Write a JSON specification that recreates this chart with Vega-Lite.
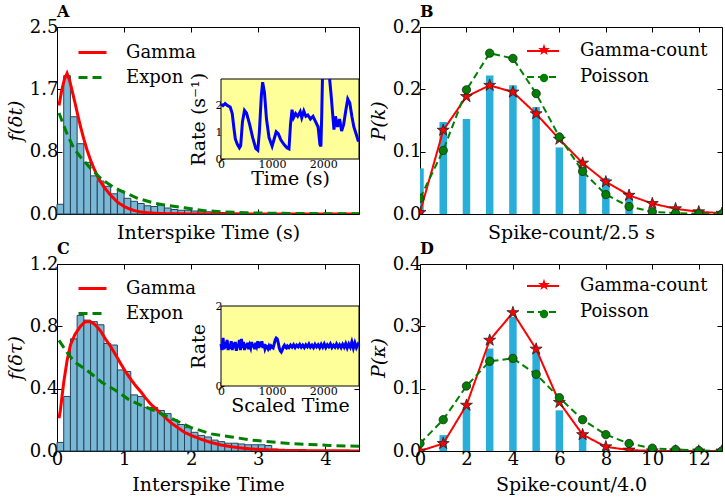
{
  "$schema": "https://vega.github.io/schema/vega-lite/v6.json",
  "background": "white",
  "padding": {"left": 5, "top": 3, "right": 3, "bottom": 3},
  "bounds": "flush",
  "columns": 2,
  "spacing": {"row": 50, "column": 61},
  "resolve": {
    "scale": {"color": "independent", "strokeDash": "independent", "shape": "independent", "fill": "independent"},
    "legend": {"color": "independent", "strokeDash": "independent", "shape": "independent", "fill": "independent"}
  },
  "config": {
    "font": "DejaVu Serif",
    "view": {"stroke": "black", "strokeWidth": 1},
    "axis": {"labelFont": "DejaVu Serif", "labelFontSize": 18, "titleFont": "DejaVu Serif", "titleFontSize": 19, "titleFontWeight": "normal", "labelColor": "black", "titleColor": "black", "tickColor": "black", "domain": false, "grid": false, "labelFlush": false, "labelOverlap": false, "tickSize": -5, "labelPadding": 4},
    "legend": {"labelFont": "DejaVu Serif", "labelFontSize": 18, "labelColor": "black", "padding": 0},
    "title": {"anchor": "start", "font": "DejaVu Serif", "fontSize": 16, "fontWeight": "bold", "offset": -2, "baseline": "alphabetic", "frame": "group", "color": "black"}
  },
  "concat": [
    {
      "width": 302, "height": 187,
      "title": {"text": "A"},
      "layer": [
        {
          "layer": [
            {
              "data": {"name": "histA"},
              "mark": {"type": "bar", "fill": "#7ab8d6", "stroke": "#25455a", "strokeWidth": 1},
              "encoding": {
                "x": {"field": "lo", "type": "quantitative", "scale": {"domain": [0, 4.5], "padding": 0, "nice": false}, "axis": {"orient": "bottom", "values": [0, 1, 2, 3, 4], "labels": false, "title": "Interspike Time (s)", "titlePadding": 9}},
                "x2": {"field": "hi"},
                "y": {"field": "density", "type": "quantitative", "scale": {"domain": [0, 2.5], "padding": 0, "nice": false}, "axis": {"orient": "left", "values": [0, 0.83333, 1.66667, 2.5], "format": ".1f", "title": "f(δt)", "titleFontStyle": "italic", "titlePadding": 4}},
                "y2": {"datum": 0}
              }
            },
            {
              "data": {"name": "lineA"},
              "mark": {"type": "line", "strokeWidth": 3, "clip": true},
              "encoding": {
                "x": {"field": "t", "type": "quantitative"},
                "y": {"field": "f", "type": "quantitative"},
                "color": {"field": "model", "type": "nominal", "scale": {"domain": ["Gamma", "Expon"], "range": ["#ff0000", "#008000"]}, "legend": {"orient": "none", "legendX": 20, "legendY": 10, "title": null, "symbolType": "stroke", "symbolSize": 784, "symbolStrokeWidth": 3, "labelOffset": 18, "rowPadding": -1}},
                "strokeDash": {"field": "model", "type": "nominal", "scale": {"domain": ["Gamma", "Expon"], "range": [[1, 0], [9, 5]]}, "legend": {"orient": "none", "legendX": 20, "legendY": 10, "title": null, "symbolType": "stroke", "symbolSize": 784, "symbolStrokeWidth": 3, "labelOffset": 18, "rowPadding": -1}}
              }
            }
          ]
        },
        {
          "layer": [
            {
              "data": {"values": [{}]},
              "mark": {"type": "rect", "fill": "#ffff99", "stroke": "black", "strokeWidth": 1},
              "encoding": {
                "x": {"datum": 0, "type": "quantitative", "scale": {"domain": [0, 2700], "range": [164, 302], "nice": false}, "axis": {"orient": "bottom", "offset": -55, "values": [0, 1000, 2000], "format": "d", "labelFontSize": 11, "tickSize": -3, "labelPadding": 2, "title": "Time (s)", "titlePadding": 0}},
                "x2": {"datum": 2700},
                "y": {"datum": 0, "type": "quantitative", "scale": {"domain": [0, 3], "range": [132, 52], "nice": false}, "axis": {"orient": "left", "offset": -164, "values": [0, 1, 2], "format": "d", "labelFontSize": 11, "tickSize": -3, "labelPadding": 2, "title": "Rate (s⁻¹)", "titleX": -13}},
                "y2": {"datum": 3}
              }
            },
            {
              "data": {"name": "rateA"},
              "mark": {"type": "line", "color": "#0000ff", "strokeWidth": 3},
              "encoding": {
                "x": {"field": "time", "type": "quantitative"},
                "y": {"field": "rate", "type": "quantitative"},
                "detail": {"field": "seg", "type": "nominal"}
              }
            }
          ]
        },
        {
          "data": {"values": [{}]},
          "mark": {"type": "point", "opacity": 0},
          "encoding": {
            "x": {"datum": 0, "type": "quantitative", "scale": {"domain": [0, 4.5], "nice": false}, "axis": {"orient": "top", "values": [0, 1, 2, 3, 4], "labels": false, "title": null, "minExtent": 0, "maxExtent": 0}},
            "y": {"datum": 0, "type": "quantitative", "scale": {"domain": [0, 2.5], "nice": false}, "axis": {"orient": "right", "values": [0, 0.83333, 1.66667, 2.5], "labels": false, "title": null, "minExtent": 0, "maxExtent": 0}}
          }
        }
      ],
      "resolve": {"scale": {"x": "independent", "y": "independent"}}
    },
    {
      "width": 302, "height": 187,
      "title": {"text": "B"},
      "layer": [
        {
          "layer": [
            {
              "data": {"name": "countB"},
              "mark": {"type": "bar", "color": "#28aed8", "width": 7.5, "clip": true},
              "encoding": {
                "x": {"field": "k", "type": "quantitative", "scale": {"domain": [0, 13], "padding": 0, "nice": false}, "axis": {"orient": "bottom", "values": [0, 2, 4, 6, 8, 10, 12], "labels": false, "title": "Spike-count/2.5 s", "titlePadding": 9}},
                "y": {"field": "prob", "type": "quantitative", "scale": {"domain": [0, 0.25], "padding": 0, "nice": false}, "axis": {"orient": "left", "values": [0, 0.08333, 0.16667, 0.2499], "format": ".1f", "title": "P(k)", "titleFontStyle": "italic", "titlePadding": 4}}
              }
            },
            {
              "data": {"name": "modelB"},
              "mark": {"type": "line", "strokeWidth": 2, "clip": true},
              "encoding": {
                "x": {"field": "k", "type": "quantitative"},
                "y": {"field": "p", "type": "quantitative"},
                "color": {"field": "model", "type": "nominal", "scale": {"domain": ["Gamma-count", "Poisson"], "range": ["#ff0000", "#008000"]}, "legend": {"orient": "none", "legendX": 106, "legendY": 7, "title": null, "symbolType": "stroke", "symbolSize": 1024, "symbolStrokeWidth": 2, "labelOffset": 20, "rowPadding": -4}},
                "strokeDash": {"field": "model", "type": "nominal", "scale": {"domain": ["Gamma-count", "Poisson"], "range": [[1, 0], [7, 4]]}, "legend": {"orient": "none", "legendX": 106, "legendY": 7, "title": null, "symbolType": "stroke", "symbolSize": 1024, "symbolStrokeWidth": 2, "labelOffset": 20, "rowPadding": -4}}
              }
            },
            {
              "data": {"name": "modelB"},
              "mark": {"type": "point", "filled": true, "size": 70, "stroke": "#222222", "strokeWidth": 0.8, "opacity": 1, "clip": true},
              "encoding": {
                "x": {"field": "k", "type": "quantitative"},
                "y": {"field": "p", "type": "quantitative"},
                "shape": {"field": "model", "type": "nominal", "scale": {"domain": ["Gamma-count", "Poisson"], "range": ["M0,-1.5L0.337,-0.464L1.427,-0.464L0.545,0.177L0.882,1.214L0,0.573L-0.882,1.214L-0.545,0.177L-1.427,-0.464L-0.337,-0.464Z", "circle"]}, "legend": {"orient": "none", "legendX": 115, "legendY": 14, "title": null, "symbolSize": 70, "symbolStrokeColor": "#222222", "symbolStrokeWidth": 0.8, "labelExpr": "''", "labelOffset": 20, "rowPadding": 10}},
                "fill": {"field": "model", "type": "nominal", "scale": {"domain": ["Gamma-count", "Poisson"], "range": ["#ff0000", "#008000"]}, "legend": {"orient": "none", "legendX": 115, "legendY": 14, "title": null, "symbolSize": 70, "symbolStrokeColor": "#222222", "symbolStrokeWidth": 0.8, "labelExpr": "''", "labelOffset": 20, "rowPadding": 10}}
              }
            }
          ],
          "resolve": {"legend": {"color": "independent", "strokeDash": "independent", "shape": "independent", "fill": "independent"}}
        },
        {
          "data": {"values": [{}]},
          "mark": {"type": "point", "opacity": 0},
          "encoding": {
            "x": {"datum": 0, "type": "quantitative", "scale": {"domain": [0, 13], "nice": false}, "axis": {"orient": "top", "values": [0, 2, 4, 6, 8, 10, 12], "labels": false, "title": null, "minExtent": 0, "maxExtent": 0}},
            "y": {"datum": 0, "type": "quantitative", "scale": {"domain": [0, 0.25], "nice": false}, "axis": {"orient": "right", "values": [0, 0.08333, 0.16667, 0.25], "labels": false, "title": null, "minExtent": 0, "maxExtent": 0}}
          }
        }
      ],
      "resolve": {"scale": {"x": "independent", "y": "independent"}}
    },
    {
      "width": 302, "height": 187,
      "title": {"text": "C"},
      "layer": [
        {
          "layer": [
            {
              "data": {"name": "histC"},
              "mark": {"type": "bar", "fill": "#7ab8d6", "stroke": "#25455a", "strokeWidth": 1},
              "encoding": {
                "x": {"field": "lo", "type": "quantitative", "scale": {"domain": [0, 4.5], "padding": 0, "nice": false}, "axis": {"orient": "bottom", "values": [0, 1, 2, 3, 4], "format": "d", "title": "Interspike Time", "titlePadding": 7}},
                "x2": {"field": "hi"},
                "y": {"field": "density", "type": "quantitative", "scale": {"domain": [0, 1.2], "padding": 0, "nice": false}, "axis": {"orient": "left", "values": [0, 0.4, 0.8, 1.2], "format": ".1f", "title": "f(δτ)", "titleFontStyle": "italic", "titlePadding": 4}},
                "y2": {"datum": 0}
              }
            },
            {
              "data": {"name": "lineC"},
              "mark": {"type": "line", "strokeWidth": 3, "clip": true},
              "encoding": {
                "x": {"field": "t", "type": "quantitative"},
                "y": {"field": "f", "type": "quantitative"},
                "color": {"field": "model", "type": "nominal", "scale": {"domain": ["Gamma", "Expon"], "range": ["#ff0000", "#008000"]}, "legend": {"orient": "none", "legendX": 20, "legendY": 9, "title": null, "symbolType": "stroke", "symbolSize": 784, "symbolStrokeWidth": 3, "labelOffset": 18, "rowPadding": -1}},
                "strokeDash": {"field": "model", "type": "nominal", "scale": {"domain": ["Gamma", "Expon"], "range": [[1, 0], [9, 5]]}, "legend": {"orient": "none", "legendX": 20, "legendY": 9, "title": null, "symbolType": "stroke", "symbolSize": 784, "symbolStrokeWidth": 3, "labelOffset": 18, "rowPadding": -1}}
              }
            }
          ]
        },
        {
          "layer": [
            {
              "data": {"values": [{}]},
              "mark": {"type": "rect", "fill": "#ffff99", "stroke": "black", "strokeWidth": 1},
              "encoding": {
                "x": {"datum": 0, "type": "quantitative", "scale": {"domain": [0, 2700], "range": [164, 302], "nice": false}, "axis": {"orient": "bottom", "offset": -65, "values": [0, 1000, 2000], "format": "d", "labelFontSize": 11, "tickSize": -3, "labelPadding": 2, "title": "Scaled Time", "titlePadding": 0}},
                "x2": {"datum": 2700},
                "y": {"datum": 0, "type": "quantitative", "scale": {"domain": [0, 2], "range": [122, 42], "nice": false}, "axis": {"orient": "left", "offset": -164, "values": [0, 1, 2], "format": "d", "labelFontSize": 11, "tickSize": -3, "labelPadding": 2, "title": "Rate", "titleX": -13}},
                "y2": {"datum": 2}
              }
            },
            {
              "data": {"name": "rateC"},
              "mark": {"type": "line", "color": "#0000ff", "strokeWidth": 3},
              "encoding": {
                "x": {"field": "time", "type": "quantitative"},
                "y": {"field": "rate", "type": "quantitative"}
              }
            }
          ]
        },
        {
          "data": {"values": [{}]},
          "mark": {"type": "point", "opacity": 0},
          "encoding": {
            "x": {"datum": 0, "type": "quantitative", "scale": {"domain": [0, 4.5], "nice": false}, "axis": {"orient": "top", "values": [0, 1, 2, 3, 4], "labels": false, "title": null, "minExtent": 0, "maxExtent": 0}},
            "y": {"datum": 0, "type": "quantitative", "scale": {"domain": [0, 1.2], "nice": false}, "axis": {"orient": "right", "values": [0, 0.4, 0.8, 1.2], "labels": false, "title": null, "minExtent": 0, "maxExtent": 0}}
          }
        }
      ],
      "resolve": {"scale": {"x": "independent", "y": "independent"}}
    },
    {
      "width": 302, "height": 187,
      "title": {"text": "D"},
      "layer": [
        {
          "layer": [
            {
              "data": {"name": "countD"},
              "mark": {"type": "bar", "color": "#28aed8", "width": 7.5, "clip": true},
              "encoding": {
                "x": {"field": "k", "type": "quantitative", "scale": {"domain": [0, 13], "padding": 0, "nice": false}, "axis": {"orient": "bottom", "values": [0, 2, 4, 6, 8, 10, 12], "format": "d", "title": "Spike-count/4.0", "titlePadding": 7}},
                "y": {"field": "prob", "type": "quantitative", "scale": {"domain": [0, 0.4], "padding": 0, "nice": false}, "axis": {"orient": "left", "values": [0, 0.13333, 0.26667, 0.4], "format": ".1f", "title": "P(κ)", "titleFontStyle": "italic", "titlePadding": 4}}
              }
            },
            {
              "data": {"name": "modelD"},
              "mark": {"type": "line", "strokeWidth": 2, "clip": true},
              "encoding": {
                "x": {"field": "k", "type": "quantitative"},
                "y": {"field": "p", "type": "quantitative"},
                "color": {"field": "model", "type": "nominal", "scale": {"domain": ["Gamma-count", "Poisson"], "range": ["#ff0000", "#008000"]}, "legend": {"orient": "none", "legendX": 106, "legendY": 5, "title": null, "symbolType": "stroke", "symbolSize": 1024, "symbolStrokeWidth": 2, "labelOffset": 20, "rowPadding": -3}},
                "strokeDash": {"field": "model", "type": "nominal", "scale": {"domain": ["Gamma-count", "Poisson"], "range": [[1, 0], [7, 4]]}, "legend": {"orient": "none", "legendX": 106, "legendY": 5, "title": null, "symbolType": "stroke", "symbolSize": 1024, "symbolStrokeWidth": 2, "labelOffset": 20, "rowPadding": -3}}
              }
            },
            {
              "data": {"name": "modelD"},
              "mark": {"type": "point", "filled": true, "size": 70, "stroke": "#222222", "strokeWidth": 0.8, "opacity": 1, "clip": true},
              "encoding": {
                "x": {"field": "k", "type": "quantitative"},
                "y": {"field": "p", "type": "quantitative"},
                "shape": {"field": "model", "type": "nominal", "scale": {"domain": ["Gamma-count", "Poisson"], "range": ["M0,-1.5L0.337,-0.464L1.427,-0.464L0.545,0.177L0.882,1.214L0,0.573L-0.882,1.214L-0.545,0.177L-1.427,-0.464L-0.337,-0.464Z", "circle"]}, "legend": {"orient": "none", "legendX": 115, "legendY": 12, "title": null, "symbolSize": 70, "symbolStrokeColor": "#222222", "symbolStrokeWidth": 0.8, "labelExpr": "''", "labelOffset": 20, "rowPadding": 11}},
                "fill": {"field": "model", "type": "nominal", "scale": {"domain": ["Gamma-count", "Poisson"], "range": ["#ff0000", "#008000"]}, "legend": {"orient": "none", "legendX": 115, "legendY": 12, "title": null, "symbolSize": 70, "symbolStrokeColor": "#222222", "symbolStrokeWidth": 0.8, "labelExpr": "''", "labelOffset": 20, "rowPadding": 11}}
              }
            }
          ],
          "resolve": {"legend": {"color": "independent", "strokeDash": "independent", "shape": "independent", "fill": "independent"}}
        },
        {
          "data": {"values": [{}]},
          "mark": {"type": "point", "opacity": 0},
          "encoding": {
            "x": {"datum": 0, "type": "quantitative", "scale": {"domain": [0, 13], "nice": false}, "axis": {"orient": "top", "values": [0, 2, 4, 6, 8, 10, 12], "labels": false, "title": null, "minExtent": 0, "maxExtent": 0}},
            "y": {"datum": 0, "type": "quantitative", "scale": {"domain": [0, 0.4], "nice": false}, "axis": {"orient": "right", "values": [0, 0.13333, 0.26667, 0.4], "labels": false, "title": null, "minExtent": 0, "maxExtent": 0}}
          }
        }
      ],
      "resolve": {"scale": {"x": "independent", "y": "independent"}}
    }
  ],
  "datasets": {
    "histA": [
      {"lo": 0.0, "hi": 0.1, "density": 0.13}, {"lo": 0.1, "hi": 0.2, "density": 1.85}, {"lo": 0.2, "hi": 0.3, "density": 1.30},
      {"lo": 0.3, "hi": 0.4, "density": 0.94}, {"lo": 0.4, "hi": 0.5, "density": 0.69}, {"lo": 0.5, "hi": 0.6, "density": 0.51},
      {"lo": 0.6, "hi": 0.7, "density": 0.44}, {"lo": 0.7, "hi": 0.8, "density": 0.37}, {"lo": 0.8, "hi": 0.9, "density": 0.27},
      {"lo": 0.9, "hi": 1.0, "density": 0.31}, {"lo": 1.0, "hi": 1.1, "density": 0.21}, {"lo": 1.1, "hi": 1.2, "density": 0.17},
      {"lo": 1.2, "hi": 1.3, "density": 0.14}, {"lo": 1.3, "hi": 1.4, "density": 0.11}, {"lo": 1.4, "hi": 1.5, "density": 0.10},
      {"lo": 1.5, "hi": 1.6, "density": 0.12}, {"lo": 1.6, "hi": 1.7, "density": 0.08}, {"lo": 1.7, "hi": 1.8, "density": 0.06},
      {"lo": 1.8, "hi": 1.9, "density": 0.05}, {"lo": 1.9, "hi": 2.0, "density": 0.05}, {"lo": 2.0, "hi": 2.1, "density": 0.04},
      {"lo": 2.1, "hi": 2.2, "density": 0.03}, {"lo": 2.2, "hi": 2.3, "density": 0.03}, {"lo": 2.3, "hi": 2.4, "density": 0.02},
      {"lo": 2.4, "hi": 2.5, "density": 0.02}, {"lo": 2.5, "hi": 2.6, "density": 0.015}, {"lo": 2.6, "hi": 2.7, "density": 0.012},
      {"lo": 2.7, "hi": 2.8, "density": 0.01}, {"lo": 2.8, "hi": 2.9, "density": 0.008}, {"lo": 2.9, "hi": 3.0, "density": 0.006},
      {"lo": 3.0, "hi": 3.1, "density": 0.005}, {"lo": 3.1, "hi": 3.2, "density": 0.004}, {"lo": 3.2, "hi": 3.3, "density": 0.003},
      {"lo": 3.3, "hi": 3.4, "density": 0.003}, {"lo": 3.4, "hi": 3.5, "density": 0.002}
    ],
    "lineA": [
      {"t": 0.03, "f": 1.45, "model": "Gamma"}, {"t": 0.07, "f": 1.65, "model": "Gamma"}, {"t": 0.11, "f": 1.80, "model": "Gamma"},
      {"t": 0.15, "f": 1.88, "model": "Gamma"}, {"t": 0.19, "f": 1.78, "model": "Gamma"}, {"t": 0.23, "f": 1.63, "model": "Gamma"},
      {"t": 0.27, "f": 1.48, "model": "Gamma"}, {"t": 0.31, "f": 1.32, "model": "Gamma"}, {"t": 0.35, "f": 1.17, "model": "Gamma"},
      {"t": 0.40, "f": 1.00, "model": "Gamma"}, {"t": 0.45, "f": 0.85, "model": "Gamma"}, {"t": 0.50, "f": 0.72, "model": "Gamma"},
      {"t": 0.55, "f": 0.61, "model": "Gamma"}, {"t": 0.60, "f": 0.51, "model": "Gamma"}, {"t": 0.65, "f": 0.43, "model": "Gamma"},
      {"t": 0.70, "f": 0.36, "model": "Gamma"}, {"t": 0.80, "f": 0.25, "model": "Gamma"}, {"t": 0.90, "f": 0.16, "model": "Gamma"},
      {"t": 1.00, "f": 0.10, "model": "Gamma"}, {"t": 1.10, "f": 0.06, "model": "Gamma"}, {"t": 1.20, "f": 0.035, "model": "Gamma"},
      {"t": 1.30, "f": 0.02, "model": "Gamma"}, {"t": 1.50, "f": 0.007, "model": "Gamma"}, {"t": 1.80, "f": 0.002, "model": "Gamma"},
      {"t": 2.50, "f": 0.0, "model": "Gamma"}, {"t": 4.50, "f": 0.0, "model": "Gamma"},
      {"t": 0.03, "f": 1.35, "model": "Expon"}, {"t": 0.15, "f": 1.07, "model": "Expon"}, {"t": 0.25, "f": 0.88, "model": "Expon"},
      {"t": 0.37, "f": 0.74, "model": "Expon"}, {"t": 0.50, "f": 0.61, "model": "Expon"}, {"t": 0.67, "f": 0.46, "model": "Expon"},
      {"t": 0.84, "f": 0.36, "model": "Expon"}, {"t": 1.00, "f": 0.29, "model": "Expon"}, {"t": 1.20, "f": 0.21, "model": "Expon"},
      {"t": 1.45, "f": 0.145, "model": "Expon"}, {"t": 1.60, "f": 0.12, "model": "Expon"}, {"t": 1.90, "f": 0.084, "model": "Expon"},
      {"t": 2.20, "f": 0.045, "model": "Expon"}, {"t": 2.50, "f": 0.028, "model": "Expon"}, {"t": 2.80, "f": 0.017, "model": "Expon"},
      {"t": 3.20, "f": 0.010, "model": "Expon"}, {"t": 3.60, "f": 0.006, "model": "Expon"}, {"t": 4.00, "f": 0.004, "model": "Expon"},
      {"t": 4.50, "f": 0.002, "model": "Expon"}
    ],
    "rateA": [
      {"time": 0, "rate": 2.05, "seg": "a"}, {"time": 40, "rate": 2.0, "seg": "a"}, {"time": 80, "rate": 2.08, "seg": "a"},
      {"time": 130, "rate": 2.0, "seg": "a"}, {"time": 180, "rate": 1.95, "seg": "a"}, {"time": 220, "rate": 1.7, "seg": "a"},
      {"time": 250, "rate": 1.2, "seg": "a"}, {"time": 280, "rate": 0.75, "seg": "a"}, {"time": 320, "rate": 0.55, "seg": "a"},
      {"time": 360, "rate": 0.42, "seg": "a"}, {"time": 385, "rate": 0.5, "seg": "a"}, {"time": 420, "rate": 1.4, "seg": "a"},
      {"time": 460, "rate": 1.82, "seg": "a"}, {"time": 500, "rate": 1.72, "seg": "a"}, {"time": 560, "rate": 1.3, "seg": "a"},
      {"time": 620, "rate": 0.8, "seg": "a"}, {"time": 680, "rate": 0.4, "seg": "a"}, {"time": 720, "rate": 0.33, "seg": "a"},
      {"time": 750, "rate": 1.0, "seg": "a"}, {"time": 790, "rate": 2.4, "seg": "a"}, {"time": 815, "rate": 2.88, "seg": "a"},
      {"time": 850, "rate": 2.5, "seg": "a"}, {"time": 890, "rate": 1.5, "seg": "a"}, {"time": 940, "rate": 0.8, "seg": "a"},
      {"time": 1000, "rate": 0.48, "seg": "a"}, {"time": 1040, "rate": 0.75, "seg": "a"}, {"time": 1080, "rate": 1.02, "seg": "a"},
      {"time": 1120, "rate": 0.95, "seg": "a"}, {"time": 1170, "rate": 0.72, "seg": "a"}, {"time": 1230, "rate": 0.55, "seg": "a"},
      {"time": 1290, "rate": 0.42, "seg": "a"}, {"time": 1330, "rate": 0.38, "seg": "a"}, {"time": 1360, "rate": 1.3, "seg": "a"},
      {"time": 1390, "rate": 1.85, "seg": "a"}, {"time": 1420, "rate": 1.55, "seg": "a"}, {"time": 1460, "rate": 1.7, "seg": "a"},
      {"time": 1500, "rate": 1.6, "seg": "a"}, {"time": 1550, "rate": 1.78, "seg": "a"}, {"time": 1580, "rate": 1.55, "seg": "a"},
      {"time": 1620, "rate": 1.8, "seg": "a"}, {"time": 1660, "rate": 1.6, "seg": "a"}, {"time": 1700, "rate": 1.65, "seg": "a"},
      {"time": 1750, "rate": 1.5, "seg": "a"}, {"time": 1800, "rate": 1.6, "seg": "a"}, {"time": 1850, "rate": 1.4, "seg": "a"},
      {"time": 1900, "rate": 1.2, "seg": "a"}, {"time": 1935, "rate": 0.55, "seg": "a"}, {"time": 1955, "rate": 0.47, "seg": "a"},
      {"time": 1970, "rate": 1.6, "seg": "a"}, {"time": 1985, "rate": 3.0, "seg": "a"},
      {"time": 2125, "rate": 3.0, "seg": "b"}, {"time": 2150, "rate": 2.5, "seg": "b"}, {"time": 2180, "rate": 1.8, "seg": "b"},
      {"time": 2210, "rate": 1.1, "seg": "b"}, {"time": 2240, "rate": 1.6, "seg": "b"}, {"time": 2280, "rate": 1.2, "seg": "b"},
      {"time": 2320, "rate": 1.5, "seg": "b"}, {"time": 2360, "rate": 1.05, "seg": "b"}, {"time": 2400, "rate": 1.3, "seg": "b"},
      {"time": 2440, "rate": 1.8, "seg": "b"}, {"time": 2480, "rate": 2.25, "seg": "b"}, {"time": 2520, "rate": 2.1, "seg": "b"},
      {"time": 2560, "rate": 1.6, "seg": "b"}, {"time": 2600, "rate": 1.2, "seg": "b"}, {"time": 2650, "rate": 0.9, "seg": "b"},
      {"time": 2690, "rate": 0.65, "seg": "b"}
    ],
    "histC": [
      {"lo": 0.0, "hi": 0.1, "density": 0.055}, {"lo": 0.1, "hi": 0.2, "density": 0.35}, {"lo": 0.2, "hi": 0.3, "density": 0.72},
      {"lo": 0.3, "hi": 0.4, "density": 0.87}, {"lo": 0.4, "hi": 0.5, "density": 0.84}, {"lo": 0.5, "hi": 0.6, "density": 0.83},
      {"lo": 0.6, "hi": 0.7, "density": 0.81}, {"lo": 0.7, "hi": 0.8, "density": 0.69}, {"lo": 0.8, "hi": 0.9, "density": 0.68},
      {"lo": 0.9, "hi": 1.0, "density": 0.52}, {"lo": 1.0, "hi": 1.1, "density": 0.51}, {"lo": 1.1, "hi": 1.2, "density": 0.36},
      {"lo": 1.2, "hi": 1.3, "density": 0.35}, {"lo": 1.3, "hi": 1.4, "density": 0.28}, {"lo": 1.4, "hi": 1.5, "density": 0.28},
      {"lo": 1.5, "hi": 1.6, "density": 0.26}, {"lo": 1.6, "hi": 1.7, "density": 0.24}, {"lo": 1.7, "hi": 1.8, "density": 0.20},
      {"lo": 1.8, "hi": 1.9, "density": 0.17}, {"lo": 1.9, "hi": 2.0, "density": 0.15}, {"lo": 2.0, "hi": 2.1, "density": 0.12},
      {"lo": 2.1, "hi": 2.2, "density": 0.10}, {"lo": 2.2, "hi": 2.3, "density": 0.09}, {"lo": 2.3, "hi": 2.4, "density": 0.07},
      {"lo": 2.4, "hi": 2.5, "density": 0.06}, {"lo": 2.5, "hi": 2.6, "density": 0.05}, {"lo": 2.6, "hi": 2.7, "density": 0.05},
      {"lo": 2.7, "hi": 2.8, "density": 0.045}, {"lo": 2.8, "hi": 2.9, "density": 0.04}, {"lo": 2.9, "hi": 3.0, "density": 0.04},
      {"lo": 3.0, "hi": 3.1, "density": 0.04}, {"lo": 3.1, "hi": 3.2, "density": 0.035}, {"lo": 3.2, "hi": 3.3, "density": 0.012},
      {"lo": 3.3, "hi": 3.4, "density": 0.006}, {"lo": 3.4, "hi": 3.5, "density": 0.004}, {"lo": 3.5, "hi": 3.6, "density": 0.003}
    ],
    "lineC": [
      {"t": 0.03, "f": 0.21, "model": "Gamma"}, {"t": 0.05, "f": 0.26, "model": "Gamma"}, {"t": 0.10, "f": 0.44, "model": "Gamma"},
      {"t": 0.15, "f": 0.58, "model": "Gamma"}, {"t": 0.20, "f": 0.68, "model": "Gamma"}, {"t": 0.27, "f": 0.75, "model": "Gamma"},
      {"t": 0.35, "f": 0.80, "model": "Gamma"}, {"t": 0.42, "f": 0.83, "model": "Gamma"}, {"t": 0.50, "f": 0.83, "model": "Gamma"},
      {"t": 0.57, "f": 0.81, "model": "Gamma"}, {"t": 0.65, "f": 0.77, "model": "Gamma"}, {"t": 0.72, "f": 0.72, "model": "Gamma"},
      {"t": 0.80, "f": 0.67, "model": "Gamma"}, {"t": 0.87, "f": 0.62, "model": "Gamma"}, {"t": 0.95, "f": 0.56, "model": "Gamma"},
      {"t": 1.02, "f": 0.51, "model": "Gamma"}, {"t": 1.10, "f": 0.46, "model": "Gamma"}, {"t": 1.17, "f": 0.42, "model": "Gamma"},
      {"t": 1.25, "f": 0.38, "model": "Gamma"}, {"t": 1.32, "f": 0.34, "model": "Gamma"}, {"t": 1.40, "f": 0.30, "model": "Gamma"},
      {"t": 1.50, "f": 0.26, "model": "Gamma"}, {"t": 1.60, "f": 0.22, "model": "Gamma"}, {"t": 1.70, "f": 0.18, "model": "Gamma"},
      {"t": 1.80, "f": 0.15, "model": "Gamma"}, {"t": 1.90, "f": 0.12, "model": "Gamma"}, {"t": 2.00, "f": 0.10, "model": "Gamma"},
      {"t": 2.15, "f": 0.075, "model": "Gamma"}, {"t": 2.30, "f": 0.054, "model": "Gamma"}, {"t": 2.45, "f": 0.038, "model": "Gamma"},
      {"t": 2.60, "f": 0.027, "model": "Gamma"}, {"t": 2.75, "f": 0.019, "model": "Gamma"}, {"t": 2.90, "f": 0.013, "model": "Gamma"},
      {"t": 3.10, "f": 0.008, "model": "Gamma"}, {"t": 3.40, "f": 0.004, "model": "Gamma"}, {"t": 3.80, "f": 0.002, "model": "Gamma"},
      {"t": 4.50, "f": 0.0005, "model": "Gamma"},
      {"t": 0.03, "f": 0.71, "model": "Expon"}, {"t": 0.17, "f": 0.62, "model": "Expon"}, {"t": 0.27, "f": 0.57, "model": "Expon"},
      {"t": 0.47, "f": 0.51, "model": "Expon"}, {"t": 0.67, "f": 0.44, "model": "Expon"}, {"t": 0.87, "f": 0.39, "model": "Expon"},
      {"t": 1.07, "f": 0.33, "model": "Expon"}, {"t": 1.27, "f": 0.29, "model": "Expon"}, {"t": 1.45, "f": 0.26, "model": "Expon"},
      {"t": 1.70, "f": 0.21, "model": "Expon"}, {"t": 2.00, "f": 0.15, "model": "Expon"}, {"t": 2.30, "f": 0.11, "model": "Expon"},
      {"t": 2.60, "f": 0.09, "model": "Expon"}, {"t": 2.90, "f": 0.07, "model": "Expon"}, {"t": 3.50, "f": 0.047, "model": "Expon"},
      {"t": 4.05, "f": 0.036, "model": "Expon"}, {"t": 4.50, "f": 0.03, "model": "Expon"}
    ],
    "rateC": [
      {"time": 0, "rate": 1.05}, {"time": 20, "rate": 0.9}, {"time": 40, "rate": 1.2}, {"time": 60, "rate": 0.92},
      {"time": 80, "rate": 1.1}, {"time": 100, "rate": 0.95}, {"time": 120, "rate": 1.15}, {"time": 140, "rate": 0.9},
      {"time": 160, "rate": 1.05}, {"time": 180, "rate": 0.93}, {"time": 200, "rate": 1.12}, {"time": 220, "rate": 0.9},
      {"time": 240, "rate": 1.08}, {"time": 260, "rate": 0.95}, {"time": 280, "rate": 1.1}, {"time": 300, "rate": 0.88},
      {"time": 320, "rate": 1.05}, {"time": 340, "rate": 0.97}, {"time": 360, "rate": 1.15}, {"time": 380, "rate": 0.9},
      {"time": 400, "rate": 1.18}, {"time": 420, "rate": 0.95}, {"time": 440, "rate": 1.1}, {"time": 460, "rate": 0.9},
      {"time": 480, "rate": 1.05}, {"time": 500, "rate": 0.95}, {"time": 520, "rate": 1.08}, {"time": 540, "rate": 0.92},
      {"time": 560, "rate": 1.02}, {"time": 580, "rate": 0.95}, {"time": 600, "rate": 1.1}, {"time": 620, "rate": 0.97},
      {"time": 640, "rate": 1.05}, {"time": 660, "rate": 0.92}, {"time": 680, "rate": 1.08}, {"time": 700, "rate": 1.0},
      {"time": 720, "rate": 1.12}, {"time": 740, "rate": 0.95}, {"time": 760, "rate": 1.1}, {"time": 780, "rate": 0.98},
      {"time": 800, "rate": 1.12}, {"time": 820, "rate": 0.95}, {"time": 840, "rate": 1.05}, {"time": 860, "rate": 0.93},
      {"time": 880, "rate": 1.0}, {"time": 900, "rate": 0.98}, {"time": 920, "rate": 0.93}, {"time": 940, "rate": 1.0},
      {"time": 960, "rate": 0.95}, {"time": 980, "rate": 1.0}, {"time": 1000, "rate": 0.97}, {"time": 1020, "rate": 0.95},
      {"time": 1040, "rate": 1.05}, {"time": 1060, "rate": 1.15}, {"time": 1080, "rate": 1.2}, {"time": 1100, "rate": 1.18},
      {"time": 1120, "rate": 1.08}, {"time": 1140, "rate": 0.95}, {"time": 1160, "rate": 0.88}, {"time": 1180, "rate": 0.85},
      {"time": 1200, "rate": 0.9}, {"time": 1220, "rate": 0.98}, {"time": 1240, "rate": 1.02}, {"time": 1260, "rate": 0.97},
      {"time": 1280, "rate": 0.95}, {"time": 1300, "rate": 1.0}, {"time": 1330, "rate": 0.96}, {"time": 1360, "rate": 1.02},
      {"time": 1390, "rate": 0.97}, {"time": 1420, "rate": 1.03}, {"time": 1450, "rate": 0.96}, {"time": 1480, "rate": 1.02},
      {"time": 1510, "rate": 0.98}, {"time": 1540, "rate": 1.04}, {"time": 1570, "rate": 0.97}, {"time": 1600, "rate": 1.02},
      {"time": 1630, "rate": 0.96}, {"time": 1660, "rate": 1.03}, {"time": 1690, "rate": 0.98}, {"time": 1720, "rate": 1.05},
      {"time": 1750, "rate": 0.97}, {"time": 1780, "rate": 1.02}, {"time": 1810, "rate": 0.96}, {"time": 1840, "rate": 1.04},
      {"time": 1870, "rate": 0.98}, {"time": 1900, "rate": 1.03}, {"time": 1930, "rate": 0.96}, {"time": 1960, "rate": 1.04},
      {"time": 1990, "rate": 0.97}, {"time": 2020, "rate": 1.05}, {"time": 2050, "rate": 0.96}, {"time": 2080, "rate": 1.03},
      {"time": 2110, "rate": 0.98}, {"time": 2140, "rate": 1.05}, {"time": 2170, "rate": 0.96}, {"time": 2200, "rate": 1.02},
      {"time": 2230, "rate": 0.97}, {"time": 2260, "rate": 1.05}, {"time": 2290, "rate": 0.97}, {"time": 2320, "rate": 1.03},
      {"time": 2350, "rate": 0.96}, {"time": 2380, "rate": 1.04}, {"time": 2410, "rate": 0.97}, {"time": 2440, "rate": 1.06},
      {"time": 2470, "rate": 0.95}, {"time": 2500, "rate": 1.05}, {"time": 2530, "rate": 0.97}, {"time": 2560, "rate": 1.1},
      {"time": 2590, "rate": 0.95}, {"time": 2620, "rate": 1.08}, {"time": 2650, "rate": 0.96}, {"time": 2680, "rate": 1.04},
      {"time": 2700, "rate": 1.0}
    ],
    "countB": [
      {"k": 0, "prob": 0.061}, {"k": 1, "prob": 0.123}, {"k": 2, "prob": 0.127}, {"k": 3, "prob": 0.185},
      {"k": 4, "prob": 0.172}, {"k": 5, "prob": 0.143}, {"k": 6, "prob": 0.089}, {"k": 7, "prob": 0.062},
      {"k": 8, "prob": 0.048}, {"k": 9, "prob": 0.021}, {"k": 10, "prob": 0.003}
    ],
    "modelB": [
      {"k": 0, "p": 0.002, "model": "Gamma-count"}, {"k": 1, "p": 0.112, "model": "Gamma-count"}, {"k": 2, "p": 0.157, "model": "Gamma-count"},
      {"k": 3, "p": 0.172, "model": "Gamma-count"}, {"k": 4, "p": 0.163, "model": "Gamma-count"}, {"k": 5, "p": 0.134, "model": "Gamma-count"},
      {"k": 6, "p": 0.100, "model": "Gamma-count"}, {"k": 7, "p": 0.068, "model": "Gamma-count"}, {"k": 8, "p": 0.043, "model": "Gamma-count"},
      {"k": 9, "p": 0.025, "model": "Gamma-count"}, {"k": 10, "p": 0.014, "model": "Gamma-count"}, {"k": 11, "p": 0.007, "model": "Gamma-count"},
      {"k": 12, "p": 0.003, "model": "Gamma-count"}, {"k": 13, "p": 0.001, "model": "Gamma-count"},
      {"k": 0, "p": 0.021, "model": "Poisson"}, {"k": 1, "p": 0.085, "model": "Poisson"}, {"k": 2, "p": 0.166, "model": "Poisson"},
      {"k": 3, "p": 0.215, "model": "Poisson"}, {"k": 4, "p": 0.208, "model": "Poisson"}, {"k": 5, "p": 0.161, "model": "Poisson"},
      {"k": 6, "p": 0.103, "model": "Poisson"}, {"k": 7, "p": 0.057, "model": "Poisson"}, {"k": 8, "p": 0.026, "model": "Poisson"},
      {"k": 9, "p": 0.010, "model": "Poisson"}, {"k": 10, "p": 0.003, "model": "Poisson"}, {"k": 11, "p": 0.001, "model": "Poisson"},
      {"k": 12, "p": 0.0003, "model": "Poisson"}, {"k": 13, "p": 0.0001, "model": "Poisson"}
    ],
    "countD": [
      {"k": 1, "prob": 0.034}, {"k": 2, "prob": 0.094}, {"k": 3, "prob": 0.219}, {"k": 4, "prob": 0.287},
      {"k": 5, "prob": 0.212}, {"k": 6, "prob": 0.087}, {"k": 7, "prob": 0.037}, {"k": 8, "prob": 0.004}
    ],
    "modelD": [
      {"k": 0, "p": 0.0, "model": "Gamma-count"}, {"k": 1, "p": 0.016, "model": "Gamma-count"}, {"k": 2, "p": 0.098, "model": "Gamma-count"},
      {"k": 3, "p": 0.237, "model": "Gamma-count"}, {"k": 4, "p": 0.296, "model": "Gamma-count"}, {"k": 5, "p": 0.218, "model": "Gamma-count"},
      {"k": 6, "p": 0.104, "model": "Gamma-count"}, {"k": 7, "p": 0.035, "model": "Gamma-count"}, {"k": 8, "p": 0.009, "model": "Gamma-count"},
      {"k": 9, "p": 0.002, "model": "Gamma-count"}, {"k": 10, "p": 0.0003, "model": "Gamma-count"}, {"k": 11, "p": 0.0, "model": "Gamma-count"},
      {"k": 12, "p": 0.0, "model": "Gamma-count"}, {"k": 13, "p": 0.0, "model": "Gamma-count"},
      {"k": 0, "p": 0.016, "model": "Poisson"}, {"k": 1, "p": 0.067, "model": "Poisson"}, {"k": 2, "p": 0.139, "model": "Poisson"},
      {"k": 3, "p": 0.192, "model": "Poisson"}, {"k": 4, "p": 0.198, "model": "Poisson"}, {"k": 5, "p": 0.164, "model": "Poisson"},
      {"k": 6, "p": 0.114, "model": "Poisson"}, {"k": 7, "p": 0.067, "model": "Poisson"}, {"k": 8, "p": 0.035, "model": "Poisson"},
      {"k": 9, "p": 0.016, "model": "Poisson"}, {"k": 10, "p": 0.006, "model": "Poisson"}, {"k": 11, "p": 0.003, "model": "Poisson"},
      {"k": 12, "p": 0.001, "model": "Poisson"}, {"k": 13, "p": 0.0004, "model": "Poisson"}
    ]
  }
}
